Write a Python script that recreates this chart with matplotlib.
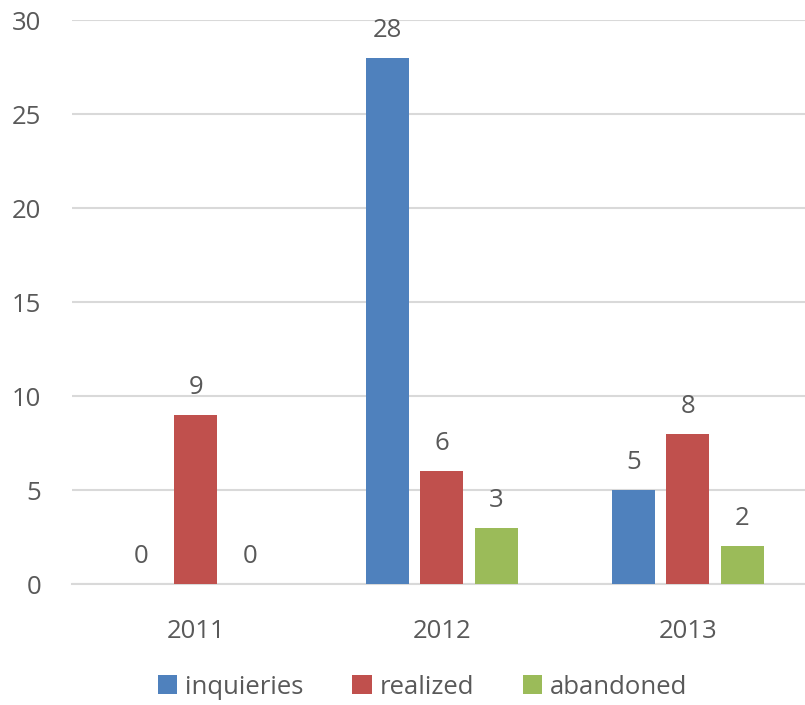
import matplotlib
matplotlib.use("Agg")
import matplotlib.pyplot as plt
import numpy as np

categories = ["2011", "2012", "2013"]
series_names = ["inquieries", "realized", "abandoned"]
inquieries = [0, 28, 5]
realized = [9, 6, 8]
abandoned = [0, 3, 2]
colors = ["#4F81BD", "#C0504D", "#9BBB59"]

plt.rcParams['font.family'] = ['Open Sans', 'DejaVu Sans']
txt = "#595959"
fs = 18.5

fig = plt.figure(figsize=(8.05, 7.05), dpi=100)
ax = fig.add_axes([72/805, 1-584/705, 1-72/805, (584-20)/705])

x = np.arange(len(categories))
w = 0.175
off = 0.222
for i, (vals, name, c) in enumerate(zip([inquieries, realized, abandoned], series_names, colors)):
    pos = x + (i - 1) * off
    bars = ax.bar(pos, vals, width=w, color=c, label=name, zorder=3)
    for p, v in zip(pos, vals):
        ax.text(p, v + 0.8, str(v), ha="center", va="bottom", fontsize=fs, color=txt)

ax.set_xlim(-0.504, 2.476)
ax.set_ylim(0, 30)
ax.set_yticks([0, 5, 10, 15, 20, 25, 30])
ax.set_xticks(x)
ax.set_xticklabels(categories)
ax.yaxis.grid(True, color="#D9D9D9", linewidth=1.5, zorder=0)
for s in ["top", "right", "left"]:
    ax.spines[s].set_visible(False)
ax.spines["bottom"].set_color("#D9D9D9")
ax.spines["bottom"].set_linewidth(1.5)
ax.tick_params(axis="both", length=0, labelsize=fs, colors=txt)
ax.tick_params(axis="y", pad=22)
ax.tick_params(axis="x", pad=25)

handles, labels = ax.get_legend_handles_labels()
fig.legend(handles, labels, loc="center", bbox_to_anchor=(0.525, 1-687/705), ncol=3,
           frameon=False, fontsize=fs, labelcolor=txt, handlelength=0.75, handleheight=0.75,
           handletextpad=0.3, columnspacing=1.9)

fig.savefig("out.png", dpi=100)
